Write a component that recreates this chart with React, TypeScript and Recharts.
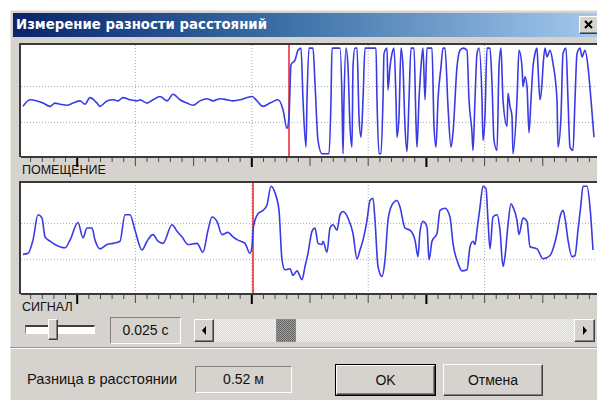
import React from "react";
import { LineChart, Line, XAxis, YAxis, ReferenceLine } from "recharts";

// room microphone: quiet noise, then clipped echo after the marker
const roomWave: [number, number][] = [
  [4, 46], [11, 52], [18, 51], [24, 49], [31, 46], [36, 49], [41, 48], [48, 47],
  [54, 49], [61, 51], [66, 48], [71, 54], [78, 49], [81, 46], [88, 51], [94, 52],
  [99, 51], [104, 54], [111, 52], [118, 51], [121, 52], [128, 49], [134, 52], [141, 55],
  [148, 51], [154, 57], [161, 52], [168, 49], [174, 47], [181, 51], [188, 53], [194, 51],
  [201, 53], [208, 52], [214, 51], [221, 52], [228, 54], [233, 55], [238, 51], [244, 46],
  [251, 49], [259, 52], [264, 43], [268, 26], [270, 37], [272, 84], [276, 88], [279, 97],
  [282, 99], [284, 52], [287, 9], [288, 52], [290, 99], [294, 99], [296, 67], [299, 15],
  [303, 3], [310, 3], [312, 52], [313, 99], [321, 99], [323, 52], [324, 3], [325, 52],
  [327, 99], [329, 82], [331, 28], [333, 9], [334, 82], [336, 99], [338, 99], [340, 37],
  [342, 18], [344, 52], [346, 99], [357, 99], [358, 52], [360, 3], [362, 3], [364, 52],
  [365, 94], [368, 99], [369, 61], [371, 82], [373, 94], [375, 99], [377, 52], [378, 18],
  [380, 37], [382, 99], [384, 82], [386, 28], [388, 5], [390, 52], [392, 99], [395, 99],
  [397, 31], [398, 9], [400, 52], [402, 82], [404, 99], [406, 52], [408, 99], [413, 99],
  [415, 28], [417, 9], [419, 52], [422, 82], [424, 99], [426, 99], [429, 46], [432, 9],
  [434, 22], [438, 82], [441, 97], [444, 99], [448, 97], [450, 52], [453, 22], [454, 6],
  [456, 52], [458, 94], [460, 99], [463, 52], [464, 15], [466, 37], [468, 99], [471, 99],
  [473, 67], [475, 15], [478, 6], [480, 82], [482, 99], [484, 52], [488, 28], [489, 58],
  [491, 46], [493, 37], [494, 3], [498, 52], [500, 97], [503, 82], [504, 64], [506, 73],
  [508, 64], [510, 22], [512, 52], [514, 82], [516, 94], [518, 99], [519, 82], [521, 52],
  [523, 67], [524, 82], [526, 99], [528, 91], [531, 97], [534, 85], [538, 52], [539, 9],
  [542, 37], [544, 94], [547, 99], [549, 52], [551, 9], [554, 6], [556, 52], [558, 94],
  [561, 99], [563, 91], [566, 97], [569, 82], [572, 52], [575, 18],
];

// reference signal
const signalWave: [number, number][] = [
  [4, 36], [9, 37], [14, 49], [19, 72], [23, 69], [26, 52], [31, 48], [36, 45],
  [46, 42], [51, 49], [59, 65], [64, 51], [68, 60], [73, 60], [76, 49], [81, 41],
  [88, 45], [94, 46], [101, 48], [106, 72], [111, 72], [116, 58], [123, 40], [128, 48],
  [134, 54], [139, 48], [144, 46], [153, 63], [158, 57], [163, 52], [169, 45], [178, 46],
  [184, 38], [189, 58], [193, 70], [198, 66], [203, 54], [209, 56], [214, 52], [219, 49],
  [226, 46], [231, 37], [233, 43], [234, 58], [236, 67], [239, 73], [244, 76], [248, 81],
  [252, 98], [256, 92], [260, 76], [263, 31], [266, 22], [271, 23], [274, 17], [278, 21],
  [283, 13], [286, 25], [289, 37], [293, 57], [296, 60], [299, 46], [303, 45], [304, 48],
  [308, 38], [311, 60], [314, 63], [318, 58], [321, 72], [324, 75], [329, 69], [334, 55],
  [338, 32], [341, 40], [344, 49], [348, 67], [351, 85], [354, 87], [356, 67], [359, 25],
  [363, 16], [366, 31], [369, 67], [373, 81], [378, 85], [381, 79], [386, 60], [391, 58],
  [396, 49], [399, 34], [401, 57], [404, 66], [408, 61], [410, 31], [413, 48], [418, 55],
  [421, 76], [426, 78], [431, 70], [434, 46], [439, 28], [443, 21], [448, 22], [451, 43],
  [454, 48], [456, 45], [458, 58], [461, 79], [464, 98], [467, 96], [469, 67], [471, 41],
  [474, 70], [478, 72], [481, 58], [484, 25], [486, 34], [489, 63], [492, 82], [494, 79],
  [498, 67], [500, 54], [504, 69], [508, 66], [511, 43], [518, 41], [524, 32], [531, 35],
  [534, 41], [538, 55], [541, 70], [544, 76], [546, 69], [549, 49], [553, 34], [556, 35],
  [559, 58], [562, 82], [564, 98], [568, 98], [571, 79], [574, 40],
];

const roomMarker = 270;
const signalMarker = 234;
const gridTimes = [116.4, 232.8, 349.2, 465.6];
const gridLevels = [31.5, 64];
const rulerStep = 11.64;
const rulerTicks = Array.from({ length: 51 }, (_, k) => k * rulerStep);

const UI_FONT = '"Liberation Sans", Arial, sans-serif';
const face = "#d6d3ce";

const RulerTick = (props: any) => {
  const { x, y, payload } = props;
  const k = Math.round(payload.value / rulerStep);
  const major = k % 5 === 0;
  const bold = k >= 5 && (k - 5) % 15 === 0;
  const len = bold ? 9 : major ? 8 : 4;
  return (
    <line
      x1={x}
      x2={x}
      y1={y + 1}
      y2={y + 1 + len}
      stroke={bold ? "#000" : "#4a4a4a"}
      strokeWidth={bold ? 2 : 1}
    />
  );
};

const sunken: React.CSSProperties = {
  borderTop: "1px solid #808080",
  borderLeft: "1px solid #808080",
  borderRight: "1px solid #fff",
  borderBottom: "1px solid #fff",
  boxSizing: "border-box",
};

const raised: React.CSSProperties = {
  borderTop: "1px solid #fff",
  borderLeft: "1px solid #fff",
  borderRight: "1px solid #404040",
  borderBottom: "1px solid #404040",
  boxShadow: "inset -1px -1px 0 #808080",
  boxSizing: "border-box",
  background: face,
};

function WavePanel({
  wave,
  marker,
  top,
  plotHeight,
  label,
}: {
  wave: [number, number][];
  marker: number;
  top: number;
  plotHeight: number;
  label: string;
}) {
  const rows = wave.map(([t, v]) => ({ t, v }));
  const yMax = (100 * plotHeight) / 110;
  return (
    <>
      <div
        style={{
          position: "absolute",
          left: 19,
          top: top - 2,
          width: 590,
          height: plotHeight + 2,
          background: "#fff",
          borderTop: "2px solid #3a3a3a",
          borderLeft: "2px solid #3a3a3a",
          boxSizing: "border-box",
        }}
      />
      <div style={{ position: "absolute", left: 21, top }}>
        <LineChart
          width={582}
          height={plotHeight + 12}
          data={rows}
          margin={{ top: 0, right: 0, bottom: 0, left: 0 }}
        >
          <XAxis
            dataKey="t"
            type="number"
            domain={[2, 584]}
            allowDataOverflow
            ticks={rulerTicks}
            interval={0}
            height={12}
            tickSize={0}
            tickMargin={0}
            tickLine={false}
            axisLine={{ stroke: "#3a3a3a", strokeWidth: 2 }}
            tick={RulerTick}
          />
          <YAxis hide domain={[0, yMax]} allowDataOverflow />
          {gridTimes.map((g) => (
            <ReferenceLine key={"x" + g} x={g} stroke="#a8a8a8" strokeDasharray="1 2" />
          ))}
          {gridLevels.map((g) => (
            <ReferenceLine key={"y" + g} y={g} stroke="#a8a8a8" strokeDasharray="1 2" />
          ))}
          <ReferenceLine x={marker} stroke="#e8202a" strokeWidth={1.5} />
          <Line
            dataKey="v"
            type="monotone"
            stroke="#3a3ae4"
            strokeWidth={1.6}
            dot={false}
            isAnimationActive={false}
          />
        </LineChart>
      </div>
      <div
        style={{
          position: "absolute",
          left: 22,
          top: top + plotHeight + 7,
          fontSize: 12.5,
          fontFamily: UI_FONT,
          color: "#111",
          lineHeight: "13px",
        }}
      >
        {label}
      </div>
    </>
  );
}

export default function App() {
  return (
    <div
      style={{
        position: "absolute",
        left: 0,
        top: 0,
        width: 597,
        height: 400,
        background: "#fff",
        overflow: "hidden",
        fontFamily: UI_FONT,
      }}
    >
      <div
        style={{
          position: "absolute",
          left: 10,
          top: 10,
          width: 600,
          height: 400,
          background: face,
          borderTop: "1px solid #ecebe8",
          borderLeft: "1px solid #ecebe8",
          boxSizing: "border-box",
        }}
      />
      <div
        style={{
          position: "absolute",
          left: 13,
          top: 13,
          width: 590,
          height: 24,
          background: "linear-gradient(to right, #0a246a, #3a6ea5 45%, #a6caf0)",
          color: "#fff",
          fontFamily: '"DejaVu Sans", Verdana, sans-serif',
          fontWeight: "bold",
          fontSize: 13.3,
          lineHeight: "24px",
          paddingLeft: 3,
          boxSizing: "border-box",
        }}
      >
        Измерение разности расстояний
      </div>
      <div style={{ ...raised, position: "absolute", left: 579, top: 16, width: 20, height: 18 }}>
        <svg width={18} height={16} style={{ position: "absolute", left: 0, top: 0 }}>
          <path d="M5 4 L12 11 M12 4 L5 11" stroke="#000" strokeWidth={2} />
        </svg>
      </div>

      <WavePanel wave={roomWave} marker={roomMarker} top={45} plotHeight={112} label="ПОМЕЩЕНИЕ" />
      <WavePanel wave={signalWave} marker={signalMarker} top={183} plotHeight={111} label="СИГНАЛ" />

      {/* zoom slider */}
      <div style={{ ...sunken, position: "absolute", left: 25, top: 325, width: 70, height: 9, background: "#fff", borderTop: "2px solid #404040" }} />
      <div style={{ ...raised, position: "absolute", left: 48, top: 319, width: 10, height: 21 }} />

      <div
        style={{
          ...sunken,
          position: "absolute",
          left: 110,
          top: 317,
          width: 71,
          height: 27,
          fontSize: 14,
          lineHeight: "25px",
          textAlign: "center",
          color: "#111",
        }}
      >
        0.025 c
      </div>

      {/* scrollbar */}
      <div
        style={{
          position: "absolute",
          left: 194,
          top: 319,
          width: 401,
          height: 23,
          background: "repeating-conic-gradient(#f4f3f0 0 25%, #d8d6d0 0 50%) 0 0/2px 2px",
        }}
      />
      <div style={{ ...raised, position: "absolute", left: 194, top: 319, width: 20, height: 23 }}>
        <svg width={18} height={21}>
          <path d="M11 6 L7 10.5 L11 15 Z" fill="#000" />
        </svg>
      </div>
      <div style={{ ...raised, position: "absolute", left: 574, top: 319, width: 21, height: 23 }}>
        <svg width={19} height={21}>
          <path d="M8 6 L12 10.5 L8 15 Z" fill="#000" />
        </svg>
      </div>
      <div
        style={{
          position: "absolute",
          left: 276,
          top: 319,
          width: 20,
          height: 23,
          boxSizing: "border-box",
          border: "1px solid #8a8a8a",
          background: "repeating-conic-gradient(#5e5e5e 0 25%, #a4a4a4 0 50%) 0 0/2px 2px",
        }}
      />

      {/* separator */}
      <div style={{ position: "absolute", left: 10, top: 347, width: 600, height: 1, background: "#9a9893" }} />
      <div style={{ position: "absolute", left: 10, top: 348, width: 600, height: 1, background: "#fff" }} />

      <div style={{ position: "absolute", left: 27, top: 371, fontSize: 14.6, color: "#111", lineHeight: "16px" }}>
        Разница в расстоянии
      </div>
      <div
        style={{
          ...sunken,
          position: "absolute",
          left: 195,
          top: 366,
          width: 97,
          height: 27,
          fontSize: 14,
          lineHeight: "25px",
          textAlign: "center",
          color: "#111",
        }}
      >
        0.52 м
      </div>
      <div
        style={{
          position: "absolute",
          left: 335,
          top: 364,
          width: 101,
          height: 32,
          border: "1px solid #000",
          boxSizing: "border-box",
        }}
      >
        <div
          style={{
            ...raised,
            width: "100%",
            height: "100%",
            fontSize: 14,
            lineHeight: "28px",
            textAlign: "center",
            color: "#111",
          }}
        >
          OK
        </div>
      </div>
      <div
        style={{
          ...raised,
          position: "absolute",
          left: 443,
          top: 364,
          width: 100,
          height: 32,
          fontSize: 14,
          lineHeight: "30px",
          textAlign: "center",
          color: "#111",
        }}
      >
        Отмена
      </div>
    </div>
  );
}
